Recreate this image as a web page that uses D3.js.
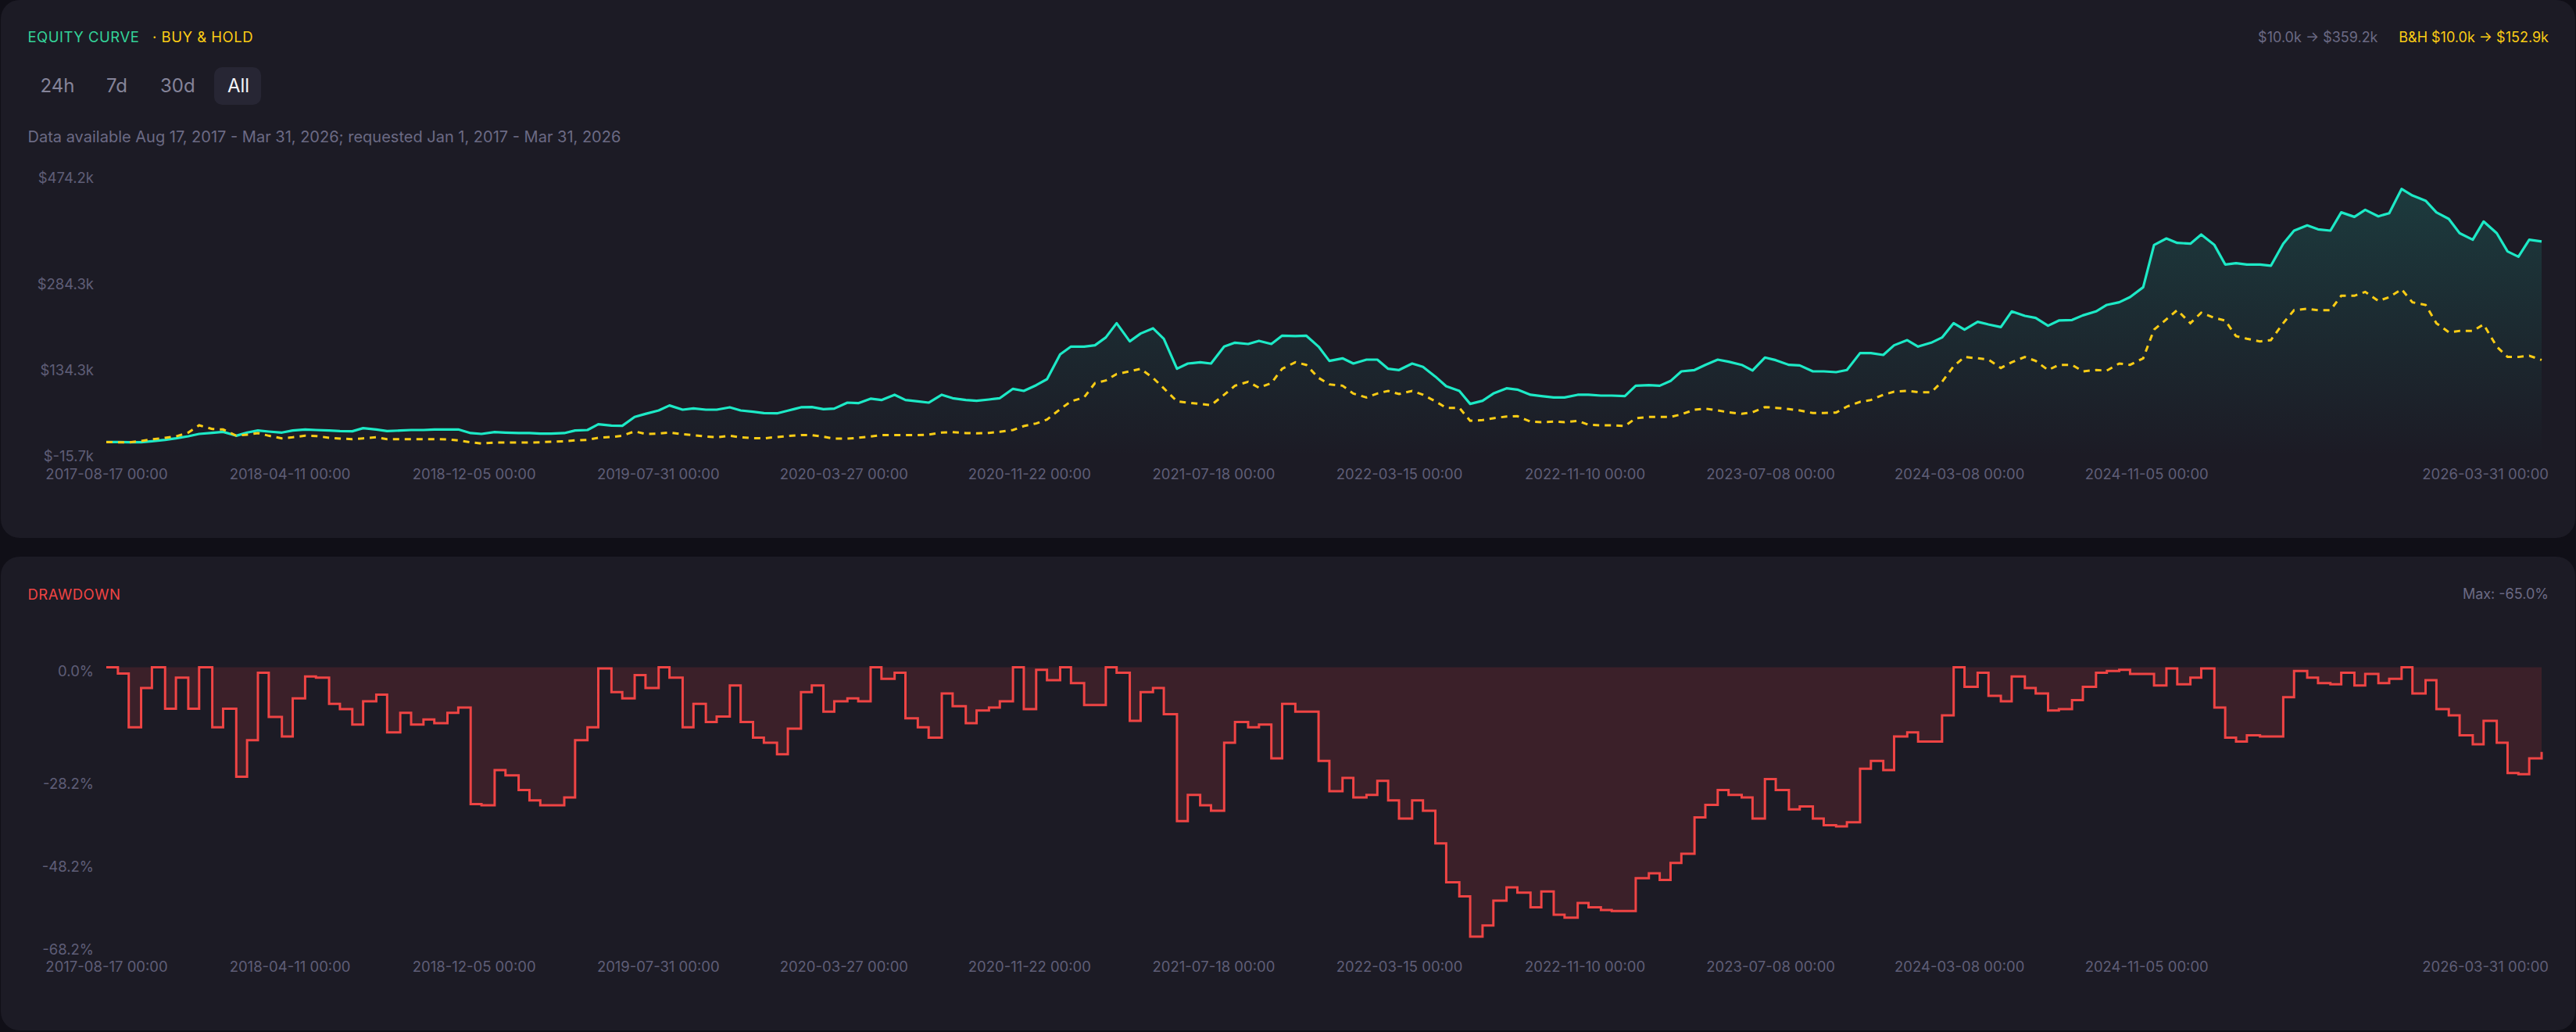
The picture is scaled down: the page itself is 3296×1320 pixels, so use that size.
<!DOCTYPE html>
<html lang="en">
  <head>
    <meta charset="UTF-8" />
    <title>Equity curve</title>
    <style>
      html,
      body {
        margin: 0;
        padding: 0;
        background: #100f17;
      }
      svg {
        display: block;
        font-family: Inter, "Noto Sans", sans-serif;
      }
    </style>
  </head>

  <body>
    <div id="chart"></div>

    <script src="https://d3js.org/d3.v7.min.js"></script>
    <script>
      // values in $k (equity, buy & hold) and % (drawdown)
      const dates = [
        "2017-08-17", "2017-09-01", "2017-09-15", "2017-10-01", "2017-10-15", "2017-11-01", "2017-11-15", "2017-12-01", "2017-12-15",
        "2018-01-01", "2018-01-15", "2018-02-01", "2018-02-15", "2018-03-01", "2018-03-15", "2018-04-01", "2018-04-15", "2018-05-01", "2018-05-15",
        "2018-06-01", "2018-06-15", "2018-07-01", "2018-07-15", "2018-08-01", "2018-08-15", "2018-09-01", "2018-09-15", "2018-10-01", "2018-10-15",
        "2018-11-01", "2018-11-15", "2018-12-01", "2018-12-15",
        "2019-01-01", "2019-01-15", "2019-02-01", "2019-02-15", "2019-03-01", "2019-03-15", "2019-04-01", "2019-04-15", "2019-05-01", "2019-05-15",
        "2019-06-01", "2019-06-15", "2019-07-01", "2019-07-15", "2019-08-01", "2019-08-15", "2019-09-01", "2019-09-15", "2019-10-01", "2019-10-15",
        "2019-11-01", "2019-11-15", "2019-12-01", "2019-12-15",
        "2020-01-01", "2020-01-15", "2020-02-01", "2020-02-15", "2020-03-01", "2020-03-15", "2020-04-01", "2020-04-15", "2020-05-01", "2020-05-15",
        "2020-06-01", "2020-06-15", "2020-07-01", "2020-07-15", "2020-08-01", "2020-08-15", "2020-09-01", "2020-09-15", "2020-10-01", "2020-10-15",
        "2020-11-01", "2020-11-15", "2020-12-01", "2020-12-15",
        "2021-01-01", "2021-01-15", "2021-02-01", "2021-02-15", "2021-03-01", "2021-03-15", "2021-04-01", "2021-04-15", "2021-05-01", "2021-05-15",
        "2021-06-01", "2021-06-15", "2021-07-01", "2021-07-15", "2021-08-01", "2021-08-15", "2021-09-01", "2021-09-15", "2021-10-01", "2021-10-15",
        "2021-11-01", "2021-11-15", "2021-12-01", "2021-12-15",
        "2022-01-01", "2022-01-15", "2022-02-01", "2022-02-15", "2022-03-01", "2022-03-15", "2022-04-01", "2022-04-15", "2022-05-01", "2022-05-15",
        "2022-06-01", "2022-06-15", "2022-07-01", "2022-07-15", "2022-08-01", "2022-08-15", "2022-09-01", "2022-09-15", "2022-10-01", "2022-10-15",
        "2022-11-01", "2022-11-15", "2022-12-01", "2022-12-15",
        "2023-01-01", "2023-01-15", "2023-02-01", "2023-02-15", "2023-03-01", "2023-03-15", "2023-04-01", "2023-04-15", "2023-05-01", "2023-05-15",
        "2023-06-01", "2023-06-15", "2023-07-01", "2023-07-15", "2023-08-01", "2023-08-15", "2023-09-01", "2023-09-15", "2023-10-01", "2023-10-15",
        "2023-11-01", "2023-11-15", "2023-12-01", "2023-12-15",
        "2024-01-01", "2024-01-15", "2024-02-01", "2024-02-15", "2024-03-01", "2024-03-15", "2024-04-01", "2024-04-15", "2024-05-01", "2024-05-15",
        "2024-06-01", "2024-06-15", "2024-07-01", "2024-07-15", "2024-08-01", "2024-08-15", "2024-09-01", "2024-09-15", "2024-10-01", "2024-10-15",
        "2024-11-01", "2024-11-15", "2024-12-01", "2024-12-15",
        "2025-01-01", "2025-01-15", "2025-02-01", "2025-02-15", "2025-03-01", "2025-03-15", "2025-04-01", "2025-04-15", "2025-05-01", "2025-05-15",
        "2025-06-01", "2025-06-15", "2025-07-01", "2025-07-15", "2025-08-01", "2025-08-15", "2025-09-01", "2025-09-15", "2025-10-01", "2025-10-15",
        "2025-11-01", "2025-11-15", "2025-12-01", "2025-12-15",
        "2026-01-01", "2026-01-15", "2026-02-01", "2026-02-15", "2026-03-01", "2026-03-15", "2026-03-31"
      ];

      const equity = [
        10.0, 10.1, 9.7, 9.8, 11.5, 13.8, 16.5, 20.1, 24.2,
        26.0, 27.8, 21.0, 26.5, 30.1, 28.3, 26.5, 30.1, 31.9, 31.0,
        30.1, 29.2, 28.8, 34.2, 31.9, 29.2, 30.1, 31.0, 31.0, 31.9,
        31.9, 31.9, 25.6, 24.2,
        27.4, 26.5, 25.6, 25.6, 24.7, 24.7, 25.6, 30.1, 31.0, 41.0,
        38.7, 38.3, 53.7, 59.1, 65.0, 73.7, 66.4, 68.7, 66.4, 66.4,
        70.5, 65.0, 62.8, 60.5,
        60.0, 64.6, 70.5, 71.0, 67.3, 68.2, 78.6, 77.7, 85.5, 83.2,
        92.3, 83.2, 80.9, 78.6, 92.3, 86.4, 83.2, 81.8, 84.1, 86.4,
        102.7, 99.1, 109.0, 119.5,
        162.6, 176.2, 176.2, 178.5, 192.1, 217.0, 185.3, 198.9, 208.0, 189.8,
        137.6, 146.7, 149.0, 146.7, 176.2, 183.0, 180.7, 186.2, 180.7, 195.3,
        194.4, 195.3, 176.2, 151.3,
        155.8, 146.7, 153.5, 153.5, 137.6, 135.4, 146.7, 140.8, 124.0, 107.2,
        99.1, 76.4, 81.8, 94.5, 103.6, 101.3, 92.3, 90.0, 87.7, 87.7,
        92.3, 92.3, 90.9, 90.9,
        90.0, 108.1, 109.0, 108.1, 116.3, 133.1, 135.4, 144.4, 153.5, 149.9,
        144.4, 134.5, 157.2, 152.6, 144.4, 143.5, 133.1, 133.1, 131.7, 135.4,
        164.9, 164.9, 161.7, 178.5,
        187.5, 176.2, 183.0, 192.1, 217.0, 205.7, 219.3, 214.8, 210.2, 237.5,
        229.7, 226.1, 212.5, 221.6, 222.5, 230.6, 237.5, 248.8, 253.3, 262.4,
        279.6, 353.1, 364.5, 356.8,
        355.4, 371.3, 353.1, 319.1, 321.4, 319.1, 319.1, 316.9, 355.4, 378.1,
        387.2, 380.4, 378.1, 409.9, 402.1, 414.4, 403.0, 408.5, 450.7, 439.3,
        430.3, 409.9, 398.5, 373.6,
        362.2, 394.0, 373.6, 341.8, 332.7, 362.2, 359.2
      ];

      const buyHold = [
        10.0, 9.7, 9.2, 12.0, 14.7, 17.4, 19.7, 26.5, 39.2,
        32.8, 31.9, 21.0, 22.9, 25.6, 21.0, 16.5, 18.3, 21.0, 20.6,
        17.4, 16.0, 15.1, 16.5, 18.3, 15.1, 15.1, 15.1, 15.1, 15.1,
        14.7, 12.9, 9.7, 7.4,
        9.2, 9.2, 9.2, 9.2, 9.7, 10.6, 11.5, 12.9, 13.8, 17.4,
        18.8, 21.0, 28.7, 24.2, 24.7, 26.5, 23.8, 22.0, 19.7, 18.3,
        21.0, 18.3, 16.9, 16.5,
        18.8, 20.6, 22.0, 22.0, 19.2, 16.0, 16.0, 17.4, 19.7, 22.0,
        22.0, 22.0, 22.0, 22.9, 26.5, 27.4, 25.6, 25.1, 26.0, 27.8,
        31.0, 37.8, 42.4, 49.2,
        67.3, 80.9, 87.7, 112.7, 117.2, 128.5, 133.1, 137.6, 121.8, 103.6,
        80.9, 78.6, 76.4, 74.1, 92.3, 108.1, 115.0, 104.5, 112.7, 137.6,
        149.0, 144.4, 121.8, 110.4,
        108.1, 94.5, 87.7, 94.5, 99.1, 93.6, 99.1, 92.3, 80.9, 69.6,
        69.6, 47.0, 48.3, 51.4, 54.6, 55.1, 45.6, 44.7, 45.6, 44.7,
        46.9, 40.1, 39.2, 39.2,
        37.8, 51.4, 53.7, 53.7, 53.7, 58.2, 66.4, 68.2, 65.0, 61.9,
        59.1, 61.9, 70.9, 69.6, 67.3, 65.0, 60.5, 60.5, 61.4, 71.8,
        80.0, 83.2, 92.3, 97.7,
        99.1, 96.8, 96.8, 115.0, 142.2, 158.1, 155.8, 153.5, 139.0, 149.0,
        158.1, 151.3, 135.4, 144.4, 144.4, 133.1, 135.4, 134.5, 146.7, 144.4,
        155.8, 205.7, 223.8, 239.7,
        217.0, 235.2, 226.1, 221.6, 194.4, 189.8, 185.3, 187.5, 217.0, 239.7,
        242.0, 239.7, 239.7, 264.7, 264.7, 271.5, 255.6, 262.4, 276.0, 253.3,
        248.8, 217.0, 201.2, 203.4,
        203.4, 214.8, 176.2, 158.1, 158.1, 160.3, 152.9
      ];

      const drawdown = [
        0, -1.5, -14.5, -5.0, 0, -10.0, -2.5, -10.0, 0,
        -14.5, -10.0, -26.4, -17.6, -1.3, -12.0, -16.7, -7.5, -2.2, -2.5,
        -8.8, -10.1, -13.8, -8.2, -6.6, -15.7, -11.0, -13.8, -12.6, -13.5,
        -11.0, -9.7, -33.0, -33.3,
        -24.8, -26.1, -29.6, -32.1, -33.3, -33.3, -31.4, -17.6, -14.5, -0.3,
        -6.0, -7.5, -1.9, -5.0, 0, -2.5, -14.5, -8.8, -13.2, -11.9,
        -4.4, -13.2, -17.0, -18.2,
        -21.0, -14.8, -6.0, -4.4, -10.7, -8.2, -7.5, -8.2, 0, -2.8,
        -1.3, -12.3, -14.5, -17.0, -6.3, -9.4, -13.5, -10.4, -9.7, -8.2,
        0, -10.1, -0.6, -3.1,
        0, -3.8, -9.1, -9.1, 0, -1.3, -12.9, -6.0, -5.0, -11.3,
        -37.1, -30.8, -33.3, -34.6, -18.2, -13.2, -14.5, -13.8, -22.0, -8.8,
        -10.7, -10.7, -22.6, -29.9,
        -26.7, -31.4, -30.8, -27.4, -32.1, -36.5, -32.1, -34.6, -42.5, -51.9,
        -55.3, -65.0, -62.3, -56.3, -53.1, -54.4, -57.9, -54.1, -59.7, -60.4,
        -56.9, -57.9, -58.6, -58.8,
        -58.8, -50.9, -49.7, -51.3, -47.2, -45.0, -36.2, -33.2, -29.6, -30.8,
        -31.4, -36.5, -27.0, -29.6, -34.3, -33.6, -36.5, -38.1, -38.4, -37.4,
        -24.5, -22.6, -24.8, -16.7,
        -15.7, -17.9, -17.9, -11.6, 0, -4.7, -1.3, -6.9, -8.2, -2.2,
        -5.0, -6.3, -10.4, -10.1, -7.9, -4.7, -1.3, -0.9, -0.6, -1.6,
        -1.6, -4.4, -0.3, -4.1,
        -2.5, -0.3, -9.7, -17.0, -17.9, -16.4, -16.7, -16.7, -7.2, -0.9,
        -2.5, -3.8, -4.1, -1.3, -4.4, -1.6, -3.8, -2.8, 0, -6.3,
        -3.1, -10.1, -11.6, -16.4,
        -18.6, -12.9, -18.2, -25.5, -25.8, -22.0, -20.4
      ];

      const xTicks = [
        "2017-08-17", "2018-04-11", "2018-12-05", "2019-07-31", "2020-03-27", "2020-11-22", "2021-07-18",
        "2022-03-15", "2022-11-10", "2023-07-08", "2024-03-08", "2024-11-05", "2026-03-31"
      ];
      const equityTicks = [-15.7, 134.3, 284.3, 474.2];
      const drawdownTicks = [0, -28.2, -48.2, -68.2];
      const ranges = ["24h", "7d", "30d", "All"];

      (() => {
        const width = 3296;
        const height = 1320;
        const right = 3261;
        const gray = "#6b6a84";
        const axisGray = "#5f5e77";
        const cyan = "#1de9c6";
        const yellow = "#facc15";
        const red = "#ef4444";

        const parse = d3.utcParse("%Y-%m-%d");
        const rows = dates.map((d, i) => ({
          date: parse(d),
          eq: equity[i],
          bh: buyHold[i],
          dd: drawdown[i],
        }));

        const svg = d3
          .select("#chart")
          .append("svg")
          .attr("width", width)
          .attr("height", height)
          .attr("viewBox", [0, 0, width, height]);

        const defs = svg.append("defs");
        const grad = defs
          .append("linearGradient")
          .attr("id", "eqFill")
          .attr("gradientUnits", "userSpaceOnUse")
          .attr("x1", 0)
          .attr("x2", 0)
          .attr("y1", 224)
          .attr("y2", 584);
        grad.append("stop").attr("offset", 0).attr("stop-color", cyan).attr("stop-opacity", 0.16);
        grad.append("stop").attr("offset", 1).attr("stop-color", cyan).attr("stop-opacity", 0);

        // panels
        svg.append("rect").attr("x", 1).attr("y", 0).attr("width", 3294).attr("height", 688)
          .attr("rx", 24).attr("fill", "#1c1b25");
        svg.append("rect").attr("x", 1).attr("y", 712).attr("width", 3294).attr("height", 606)
          .attr("rx", 24).attr("fill", "#1c1b25");

        const x = d3
          .scaleUtc()
          .domain([parse("2017-08-17"), parse("2026-03-31")])
          .range([136, 3252]);
        const yEq = d3.scaleLinear().domain([-15.7, 474.2]).range([584.3, 224.4]);
        const yDd = d3.scaleLinear().domain([-68.2, 0]).range([1215, 853.5]);

        // ---------- header ----------
        const head = svg.append("g").attr("font-size", 18.5).attr("letter-spacing", 0.5);
        head.append("text").attr("x", 35.5).attr("y", 54).attr("fill", "#34d399").text("EQUITY CURVE");
        head.append("text").attr("x", 195).attr("y", 54).attr("fill", yellow).text("· BUY & HOLD");

        svg.append("text").attr("x", right).attr("y", 54).attr("text-anchor", "end")
          .attr("font-size", 18).attr("fill", yellow).text("B&H $10.0k → $152.9k");
        svg.append("text").attr("x", 3042.5).attr("y", 54).attr("text-anchor", "end")
          .attr("font-size", 18).attr("fill", gray).text("$10.0k → $359.2k");

        svg.append("rect").attr("x", 274).attr("y", 86).attr("width", 60).attr("height", 48)
          .attr("rx", 10).attr("fill", "#272634");
        const btnX = [51.5, 136, 205, 291];
        svg.append("g").selectAll("text").data(ranges).join("text")
          .attr("x", (d, i) => btnX[i])
          .attr("y", 118)
          .attr("font-size", 24)
          .attr("fill", (d) => (d === "All" ? "#f4f4f8" : "#858499"))
          .text((d) => d);

        svg.append("text").attr("x", 35.5).attr("y", 182).attr("font-size", 20).attr("fill", gray)
          .text("Data available Aug 17, 2017 - Mar 31, 2026; requested Jan 1, 2017 - Mar 31, 2026");

        // ---------- equity chart ----------
        const eqArea = d3.area().x((d) => x(d.date)).y0(yEq(-15.7)).y1((d) => yEq(d.eq));
        svg.append("path").datum(rows).attr("d", eqArea).attr("fill", "url(#eqFill)");

        svg.append("path").datum(rows)
          .attr("d", d3.line().x((d) => x(d.date)).y((d) => yEq(d.eq)))
          .attr("fill", "none").attr("stroke", cyan).attr("stroke-width", 3.2)
          .attr("stroke-linejoin", "round");

        svg.append("path").datum(rows)
          .attr("d", d3.line().x((d) => x(d.date)).y((d) => yEq(d.bh)))
          .attr("fill", "none").attr("stroke", yellow).attr("stroke-width", 3)
          .attr("stroke-dasharray", "8 7");

        const styleAxis = (g) => {
          g.select(".domain").remove();
          g.selectAll("text").attr("fill", axisGray).attr("font-size", 18.5)
            .attr("font-family", "Inter, 'Noto Sans', sans-serif");
        };

        const eqAxis = svg.append("g").attr("transform", "translate(120,0)")
          .call(d3.axisLeft(yEq).tickValues(equityTicks).tickSize(0).tickPadding(0)
            .tickFormat((d) => "$" + d.toFixed(1) + "k"))
          .call(styleAxis);
        eqAxis.selectAll(".tick")
          .attr("transform", (d) => `translate(0,${Math.max(yEq(d), 228.3)})`);

        const fitX = (g) => {
          g.selectAll("text").attr("dy", "0.36em").each(function () {
            const b = this.getBBox();
            const tx = +d3.select(this.parentNode).attr("transform").match(/translate\(([-\d.]+)/)[1];
            if (tx + b.x + b.width > right) d3.select(this).attr("x", right - (tx + b.x + b.width));
          });
        };
        const xAxis = d3.axisBottom(x).tickValues(xTicks.map(parse)).tickSize(0).tickPadding(0)
          .tickFormat(d3.utcFormat("%Y-%m-%d %H:%M"));

        svg.append("g").attr("transform", "translate(0,606.7)").call(xAxis).call(styleAxis).call(fitX);

        // ---------- drawdown ----------
        svg.append("text").attr("x", 35.5).attr("y", 766.5).attr("font-size", 18.5)
          .attr("letter-spacing", 0.5).attr("fill", red).text("DRAWDOWN");
        svg.append("text").attr("x", right).attr("y", 766).attr("text-anchor", "end")
          .attr("font-size", 18).attr("fill", gray)
          .text("Max: " + d3.min(drawdown).toFixed(1) + "%");

        const ddArea = d3.area().curve(d3.curveStepAfter)
          .x((d) => x(d.date)).y0(yDd(0)).y1((d) => yDd(d.dd));
        svg.append("path").datum(rows).attr("d", ddArea).attr("fill", red).attr("fill-opacity", 0.15);
        svg.append("path").datum(rows)
          .attr("d", d3.line().curve(d3.curveStepAfter).x((d) => x(d.date)).y((d) => yDd(d.dd)))
          .attr("fill", "none").attr("stroke", red).attr("stroke-width", 3);

        const ddAxis = svg.append("g").attr("transform", "translate(120,0)")
          .call(d3.axisLeft(yDd).tickValues(drawdownTicks).tickSize(0).tickPadding(0)
            .tickFormat((d) => d.toFixed(1) + "%"))
          .call(styleAxis);
        ddAxis.selectAll(".tick")
          .attr("transform", (d) => `translate(0,${Math.max(yDd(d), 859)})`);

        svg.append("g").attr("transform", "translate(0,1236.7)").call(xAxis).call(styleAxis).call(fitX);
      })();
    </script>
  </body>
</html>
